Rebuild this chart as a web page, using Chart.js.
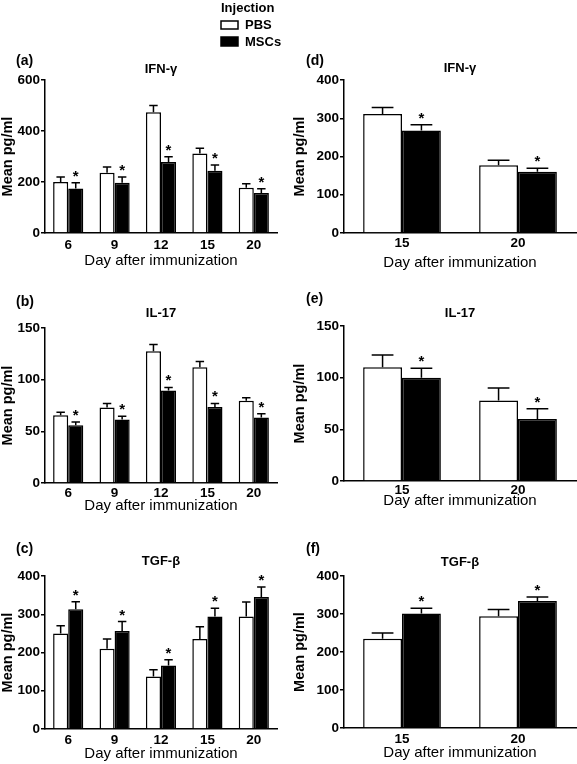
<!DOCTYPE html>
<html>
<head>
<meta charset="utf-8">
<script src="https://cdn.jsdelivr.net/npm/chart.js@4.4.1/dist/chart.umd.min.js"></script>
<style>
  body { margin: 0; background: #fff; }
  #figure { position: relative; width: 577px; height: 764px; overflow: hidden; }
  #figure canvas { position: absolute; }
</style>
</head>
<body>
<div id="figure"></div>
<script>
// Categories (day after immunization)
const daysAll = ["6", "9", "12", "15", "20"];
const daysLate = ["15", "20"];

// IFN-gamma, days 6-20 (a)
const ifnPbs = [200, 236, 474, 312, 177];
const ifnPbsErr = [20, 23, 26, 20, 16];
const ifnMsc = [175, 197, 278, 244, 157];
const ifnMscErr = [22, 23, 21, 23, 17];

// IL-17, days 6-20 (b)
const il17Pbs = [65.5, 73, 127.5, 112, 79.5];
const il17PbsErr = [3, 4, 6.5, 5.5, 3];
const il17Msc = [56, 61.5, 89.5, 73.5, 63.5];
const il17MscErr = [3, 3, 3, 3.5, 3.5];

// TGF-beta, days 6-20 (c)
const tgfPbs = [250, 210, 137, 235, 294];
const tgfPbsErr = [20, 25, 18, 32, 38];
const tgfMsc = [313, 256, 166, 294, 345];
const tgfMscErr = [20, 25, 15, 22, 26];

// IFN-gamma, days 15-20 (d)
const ifnLatePbs = [311, 177];
const ifnLatePbsErr = [17, 13];
const ifnLateMsc = [268, 160];
const ifnLateMscErr = [15, 9];

// IL-17, days 15-20 (e)
const il17LatePbs = [110, 78];
const il17LatePbsErr = [12, 12];
const il17LateMsc = [100, 60];
const il17LateMscErr = [9, 10];

// TGF-beta, days 15-20 (f)
const tgfLatePbs = [235, 294];
const tgfLatePbsErr = [15, 18];
const tgfLateMsc = [301, 334];
const tgfLateMscErr = [14, 11];

// Y axis ranges
const yMax = { a: 600, b: 150, c: 400, d: 400, e: 150, f: 400 };
const yStep = { a: 200, b: 50, c: 100, d: 100, e: 50, f: 100 };

const FONT = "'Liberation Sans', Arial, Helvetica, sans-serif";
Chart.defaults.font.family = FONT;
Chart.defaults.color = "#000";

/**
 * Draws upward error bars and significance stars
 */
const errorBars = {
  id: "errorBars",
  afterDatasetsDraw(chart) {
    const ctx = chart.ctx;
    const yScale = chart.scales.y;
    ctx.save();
    ctx.strokeStyle = "#000";
    ctx.fillStyle = "#000";
    ctx.lineWidth = 1.5;
    chart.data.datasets.forEach((ds, di) => {
      const meta = chart.getDatasetMeta(di);
      meta.data.forEach((bar, i) => {
        const top = yScale.getPixelForValue(ds.data[i] + ds.errors[i]);
        const half = bar.width * 0.28;
        ctx.beginPath();
        ctx.moveTo(bar.x, bar.y);
        ctx.lineTo(bar.x, top);
        ctx.moveTo(bar.x - half, top);
        ctx.lineTo(bar.x + half, top);
        ctx.stroke();
        if (ds.stars) {
          ctx.font = "bold 15px " + FONT;
          ctx.textAlign = "center";
          ctx.textBaseline = "alphabetic";
          ctx.fillText("*", bar.x, top - 2);
        }
      });
    });
    ctx.restore();
  },
};

const Figure = {
  instances: {},

  init() {
    const root = document.getElementById("figure");
    const left = { left: 0, width: 288, yTitleX: 8, plotLeft: 45, plotRight: 277, tagX: 16 };
    const right = { left: 288, width: 289, yTitleX: 300, plotLeft: 344, plotRight: 576, tagX: 306 };
    const row1 = { top: 0, height: 275 };
    const row2 = { top: 275, height: 250 };
    const row3 = { top: 525, height: 239 };

    const panels = [
      { key: "a", tag: "(a)", title: "IFN-γ", col: left, row: row1, days: daysAll,
        pbs: ifnPbs, pbsErr: ifnPbsErr, msc: ifnMsc, mscErr: ifnMscErr,
        plotTop: 80, plotBottom: 233, labelGap: 12, xTitleY: 261, tagY: 61, headY: 69, legend: true },
      { key: "b", tag: "(b)", title: "IL-17", col: left, row: row2, days: daysAll,
        pbs: il17Pbs, pbsErr: il17PbsErr, msc: il17Msc, mscErr: il17MscErr,
        plotTop: 328, plotBottom: 483, labelGap: 10, xTitleY: 506, tagY: 302, headY: 313 },
      { key: "c", tag: "(c)", title: "TGF-β", col: left, row: row3, days: daysAll,
        pbs: tgfPbs, pbsErr: tgfPbsErr, msc: tgfMsc, mscErr: tgfMscErr,
        plotTop: 576, plotBottom: 729, labelGap: 11, xTitleY: 754, tagY: 549, headY: 561 },
      { key: "d", tag: "(d)", title: "IFN-γ", col: right, row: row1, days: daysLate,
        pbs: ifnLatePbs, pbsErr: ifnLatePbsErr, msc: ifnLateMsc, mscErr: ifnLateMscErr,
        plotTop: 80, plotBottom: 233, labelGap: 10, xTitleY: 263, tagY: 61, headY: 68 },
      { key: "e", tag: "(e)", title: "IL-17", col: right, row: row2, days: daysLate,
        pbs: il17LatePbs, pbsErr: il17LatePbsErr, msc: il17LateMsc, mscErr: il17LateMscErr,
        plotTop: 326, plotBottom: 481, labelGap: 9, xTitleY: 501, tagY: 299, headY: 313 },
      { key: "f", tag: "(f)", title: "TGF-β", col: right, row: row3, days: daysLate,
        pbs: tgfLatePbs, pbsErr: tgfLatePbsErr, msc: tgfLateMsc, mscErr: tgfLateMscErr,
        plotTop: 576, plotBottom: 728, labelGap: 11, xTitleY: 753, tagY: 549, headY: 562 },
    ];

    panels.forEach((p) => {
      const canvas = document.createElement("canvas");
      canvas.width = p.col.width;
      canvas.height = p.row.height;
      canvas.style.left = p.col.left + "px";
      canvas.style.top = p.row.top + "px";
      root.appendChild(canvas);
      this.instances[p.key] = this.createPanel(canvas, p);
    });
  },

  /**
   * Grouped bar panel with error bars
   */
  createPanel(canvas, p) {
    const ctx = canvas.getContext("2d");
    const yTitleSize = 14.5;
    const xTitleSize = 15;
    const tickSize = 13.5;

    // layout in canvas-local pixels
    const padLeft = p.col.yTitleX - yTitleSize / 2 - p.col.left;
    const yWidth = p.col.plotLeft - p.col.left - padLeft;
    const padRight = p.col.left + p.col.width - p.col.plotRight;
    const padTop = p.plotTop - p.row.top;
    const xBottom = p.xTitleY + xTitleSize / 2;
    const xHeight = xBottom - p.plotBottom;
    const padBottom = p.row.top + p.row.height - xBottom;
    const catPct = p.days.length > 2 ? 0.65 : 0.67;

    const decorations = {
      id: "decorations",
      afterDraw(chart) {
        const c = chart.ctx;
        const area = chart.chartArea;
        c.save();
        c.fillStyle = "#000";
        c.textBaseline = "middle";
        c.font = "bold 14px " + FONT;
        c.textAlign = "left";
        c.fillText(p.tag, p.col.tagX - p.col.left, p.tagY - p.row.top);
        c.font = "bold 13px " + FONT;
        c.textAlign = "center";
        c.fillText(p.title, (area.left + area.right) / 2, p.headY - p.row.top);

        if (p.legend) {
          const lx = 221 - p.col.left;
          c.textAlign = "left";
          c.font = "bold 13px " + FONT;
          c.fillText("Injection", lx, 8);
          c.lineWidth = 1.5;
          c.strokeStyle = "#000";
          c.fillStyle = "#fff";
          c.fillRect(lx, 21, 17, 8);
          c.strokeRect(lx, 21, 17, 8);
          c.fillStyle = "#000";
          c.fillRect(lx, 37, 17, 9);
          c.strokeRect(lx, 37, 17, 9);
          c.fillText("PBS", lx + 24, 25);
          c.fillText("MSCs", lx + 24, 42);
        }
        c.restore();
      },
    };

    return new Chart(ctx, {
      type: "bar",
      data: {
        labels: p.days,
        datasets: [
          {
            label: "PBS",
            data: p.pbs,
            errors: p.pbsErr,
            backgroundColor: "#fff",
            borderColor: "#000",
            borderWidth: 1.5,
            borderSkipped: "bottom",
          },
          {
            label: "MSCs",
            data: p.msc,
            errors: p.mscErr,
            stars: true,
            backgroundColor: "#000",
            borderColor: "#000",
            borderWidth: 1.5,
            borderSkipped: "bottom",
          },
        ],
      },
      options: {
        responsive: false,
        animation: false,
        layout: {
          padding: { left: padLeft, right: padRight, top: padTop, bottom: padBottom },
        },
        datasets: {
          bar: { categoryPercentage: catPct, barPercentage: 1 },
        },
        plugins: {
          legend: { display: false },
          tooltip: { enabled: false },
        },
        scales: {
          x: {
            grid: { display: false, drawTicks: false, tickLength: 0 },
            border: { display: true, color: "#000", width: 1.5 },
            ticks: {
              padding: p.labelGap - (tickSize * 1.2) / 2,
              font: { size: tickSize, weight: "bold" },
            },
            title: {
              display: true,
              text: "Day after immunization",
              padding: 0,
              font: { size: xTitleSize, lineHeight: 1 },
            },
            afterFit(scale) {
              scale.height = xHeight;
            },
          },
          y: {
            min: 0,
            max: yMax[p.key],
            grid: {
              drawOnChartArea: false,
              color: "#000",
              lineWidth: 1.5,
              tickLength: 4,
            },
            border: { display: true, color: "#000", width: 1.5 },
            ticks: {
              stepSize: yStep[p.key],
              padding: 1,
              font: { size: tickSize, weight: "bold" },
            },
            title: {
              display: true,
              text: "Mean pg/ml",
              padding: 0,
              font: { size: yTitleSize, weight: "bold", lineHeight: 1 },
            },
            afterFit(scale) {
              scale.width = yWidth;
            },
          },
        },
      },
      plugins: [errorBars, decorations],
    });
  },
};

Figure.init();
</script>
</body>
</html>
